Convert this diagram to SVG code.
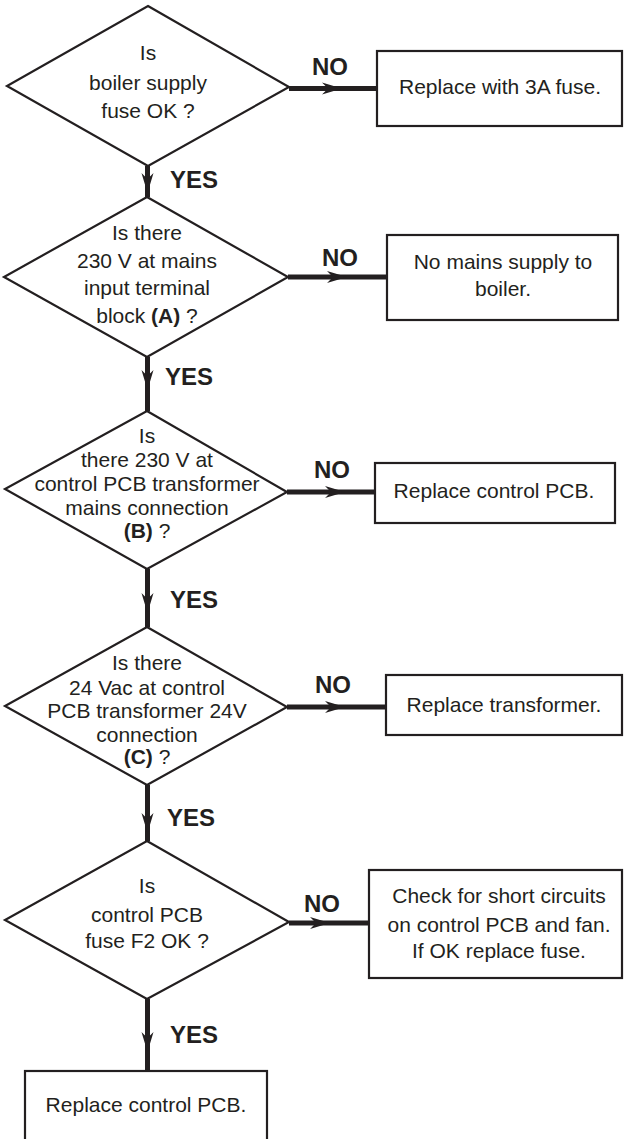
<svg xmlns="http://www.w3.org/2000/svg" xmlns:xlink="http://www.w3.org/1999/xlink" width="624" height="1139" viewBox="0 0 624 1139">
<style>
.shape{fill:#fff;stroke:#231f20;stroke-width:2.2}
.t{font-family:"Liberation Sans",Arial,sans-serif;font-size:21px;fill:#231f20;text-anchor:middle}
.b{font-weight:bold}
.lab{font-family:"Liberation Sans",Arial,sans-serif;font-size:24px;font-weight:bold;fill:#231f20}
.mid{text-anchor:middle}
.conn{stroke:#231f20;stroke-width:5;fill:none}
.ah{fill:#231f20}
</style>
<defs>
<path id="arr" d="M0,0 L-20,-6 L-14,0 L-20,6 Z"/>
</defs>
<rect width="624" height="1139" fill="#fff"/>
<g id="connectors">
<line class="conn" x1="147.5" y1="166" x2="147.5" y2="197"/>
<line class="conn" x1="147.5" y1="357" x2="147.5" y2="411"/>
<line class="conn" x1="147.5" y1="569" x2="147.5" y2="627"/>
<line class="conn" x1="147.5" y1="785" x2="147.5" y2="841"/>
<line class="conn" x1="147.5" y1="999" x2="147.5" y2="1071"/>
<line class="conn" x1="289" y1="88.5" x2="377" y2="88.5"/>
<line class="conn" x1="288" y1="277" x2="387" y2="277"/>
<line class="conn" x1="287" y1="492" x2="375" y2="492"/>
<line class="conn" x1="287" y1="707" x2="386" y2="707"/>
<line class="conn" x1="289" y1="923" x2="369" y2="923"/>
<use xlink:href="#arr" class="ah" transform="translate(147.5,193) rotate(90)"/>
<use xlink:href="#arr" class="ah" transform="translate(147.5,390) rotate(90)"/>
<use xlink:href="#arr" class="ah" transform="translate(147.5,613) rotate(90)"/>
<use xlink:href="#arr" class="ah" transform="translate(147.5,833) rotate(90)"/>
<use xlink:href="#arr" class="ah" transform="translate(147.5,1052) rotate(90)"/>
<use xlink:href="#arr" class="ah" transform="translate(342,88.5)"/>
<use xlink:href="#arr" class="ah" transform="translate(347,277)"/>
<use xlink:href="#arr" class="ah" transform="translate(345,492)"/>
<use xlink:href="#arr" class="ah" transform="translate(345,707)"/>
<use xlink:href="#arr" class="ah" transform="translate(330,923)"/>
<text class="lab mid" x="330" y="75">NO</text>
<text class="lab mid" x="340" y="266">NO</text>
<text class="lab mid" x="332" y="478">NO</text>
<text class="lab mid" x="333" y="693">NO</text>
<text class="lab mid" x="322" y="912">NO</text>
<text class="lab" x="170" y="188">YES</text>
<text class="lab" x="165" y="385">YES</text>
<text class="lab" x="170" y="608">YES</text>
<text class="lab" x="167" y="826">YES</text>
<text class="lab" x="170" y="1043">YES</text>
</g>
<g id="d1">
<polygon class="shape" points="148,6 289,87 148,166 7,86"/>
<text class="t" x="148" y="60">Is</text>
<text class="t" x="148" y="90">boiler supply</text>
<text class="t" x="148" y="118">fuse OK ?</text>
</g>
<g id="b1">
<rect class="shape" x="377" y="51" width="245" height="75"/>
<text class="t" x="500" y="94">Replace with 3A fuse.</text>
</g>
<g id="d2">
<polygon class="shape" points="147,197 288,277 147,357 4,277"/>
<text class="t" x="147" y="240">Is there</text>
<text class="t" x="147" y="268">230 V at mains</text>
<text class="t" x="147" y="295">input terminal</text>
<text class="t" x="147" y="323">block <tspan class="b">(A)</tspan> ?</text>
</g>
<g id="b2">
<rect class="shape" x="387" y="235" width="231" height="85"/>
<text class="t" x="503" y="269">No mains supply to</text>
<text class="t" x="503" y="296">boiler.</text>
</g>
<g id="d3">
<polygon class="shape" points="147,411 287,492 147,569 5,489"/>
<text class="t" x="147" y="443">Is</text>
<text class="t" x="147" y="467">there 230 V at</text>
<text class="t" x="147" y="491">control PCB transformer</text>
<text class="t" x="147" y="515">mains connection</text>
<text class="t" x="147" y="538"><tspan class="b">(B)</tspan> ?</text>
</g>
<g id="b3">
<rect class="shape" x="375" y="463" width="240" height="60"/>
<text class="t" x="494" y="498">Replace control PCB.</text>
</g>
<g id="d4">
<polygon class="shape" points="147,627 287,707 147,785 5,706"/>
<text class="t" x="147" y="670">Is there</text>
<text class="t" x="147" y="695">24 Vac at control</text>
<text class="t" x="147" y="718">PCB transformer 24V</text>
<text class="t" x="147" y="742">connection</text>
<text class="t" x="147" y="764"><tspan class="b">(C)</tspan> ?</text>
</g>
<g id="b4">
<rect class="shape" x="386" y="675" width="236" height="60"/>
<text class="t" x="504" y="712">Replace transformer.</text>
</g>
<g id="d5">
<polygon class="shape" points="147,841 289,922 147,999 5,920"/>
<text class="t" x="147" y="893">Is</text>
<text class="t" x="147" y="922">control PCB</text>
<text class="t" x="147" y="948">fuse F2 OK ?</text>
</g>
<g id="b5">
<rect class="shape" x="369" y="870" width="253" height="108"/>
<text class="t" x="499" y="903">Check for short circuits</text>
<text class="t" x="499" y="932">on control PCB and fan.</text>
<text class="t" x="499" y="958">If OK replace fuse.</text>
</g>
<g id="b6">
<rect class="shape" x="25" y="1071" width="242" height="80"/>
<text class="t" x="146" y="1112">Replace control PCB.</text>
</g>
</svg>
